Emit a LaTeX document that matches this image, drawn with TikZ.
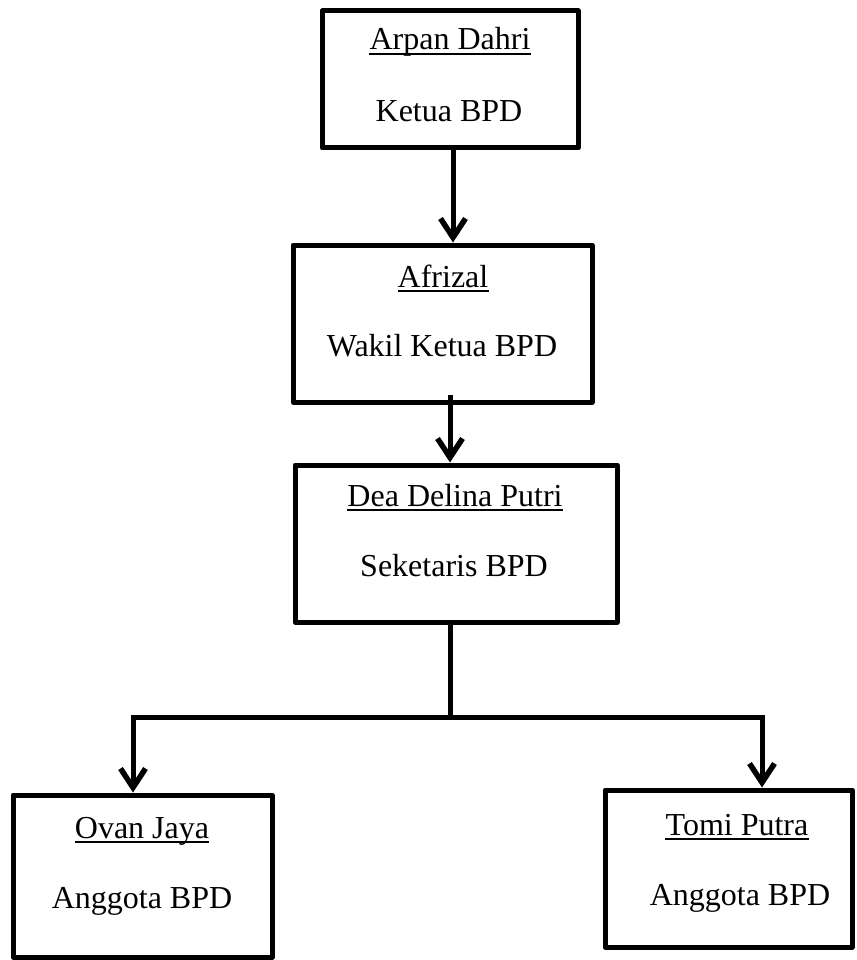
\documentclass[tikz,border=0pt]{standalone}
\usepackage{fontspec}
\setmainfont{Liberation Serif}
\usetikzlibrary{arrows.meta}
\tikzset{
  box/.style={draw, line width=5pt, line join=round, inner sep=0pt},
  lbl/.style={anchor=base, inner sep=0pt, font=\fontsize{32}{38}\selectfont},
  ul/.style={line width=2pt},
  arr/.style={line width=5pt, -{Straight Barb[length=19pt,width=25pt,line width=5.5pt]}},
  ln/.style={line width=5pt, line join=miter}
}
\begin{document}
\begin{tikzpicture}[x=1pt,y=-1pt]
\useasboundingbox (0,0) rectangle (856,960);
% boxes
\node[box, minimum width=256pt, minimum height=137pt] (b1) at (450,79.5) {};
\node[box, minimum width=299pt, minimum height=157pt] (b2) at (442.5,323.5) {};
\node[box, minimum width=322pt, minimum height=157pt] (b3) at (456,543.5) {};
\node[box, minimum width=259pt, minimum height=162pt] (b4) at (142.5,876) {};
\node[box, minimum width=247pt, minimum height=157pt] (b5) at (728.5,868.5) {};
% texts
\node[lbl] (n1) at (450,50) {Arpan Dahri};
\node[lbl] (r1) at (449,122) {Ketua BPD};
\node[lbl] (n2) at (443,287) {Afrizal};
\node[lbl] (r2) at (442,356) {Wakil Ketua BPD};
\node[lbl] (n3) at (455,506) {Dea Delina Putri};
\node[lbl] (r3) at (454,576) {Seketaris BPD};
\node[lbl] (n4) at (142,838) {Ovan Jaya};
\node[lbl] (r4) at (142,908) {Anggota BPD};
\node[lbl] (n5) at (737,835) {Tomi Putra};
\node[lbl] (r5) at (740,905) {Anggota BPD};
% underlines
\foreach \n in {n1,n2,n3,n4,n5}
  \draw[ul] ([yshift=-4pt]\n.base west) -- ([yshift=-4pt]\n.base east);
% connectors
\draw[arr] ([xshift=3pt]b1.south) -- ([xshift=3pt]b1.south |- b2.north);
\draw[arr] ([xshift=7.5pt,yshift=10pt]b2.south) -- ([xshift=7.5pt]b2.south |- b3.north);
\coordinate (j) at (450,717);
\draw[ln] ([xshift=-6pt]b3.south) -- (j);
\coordinate (t4) at ([xshift=-9.5pt]b4.north);
\coordinate (t5) at ([xshift=33.5pt]b5.north);
\draw[arr] (j) -| (t4);
\draw[arr] (j) -| (t5);
\end{tikzpicture}
\end{document}
